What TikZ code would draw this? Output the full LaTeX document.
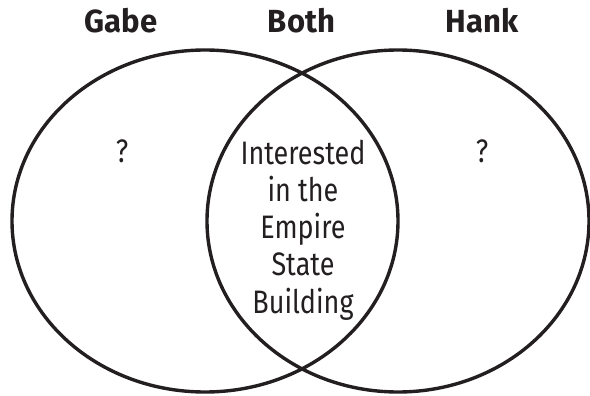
\documentclass[tikz,border=0pt]{standalone}
\usepackage{fontspec}
\setmainfont{Fira Sans}[FakeStretch=0.83, BoldFeatures={FakeStretch=0.97}]
\usetikzlibrary{shapes.geometric}
\definecolor{ink}{HTML}{231F20}
\tikzset{
  setcircle/.style={draw=ink, line width=3.4pt, ellipse, inner sep=0pt},
  heading/.style={font=\fontsize{32}{37}\selectfont\bfseries, text=ink, anchor=base, inner sep=0pt},
  body/.style={font=\fontsize{32.5}{37.2}\selectfont, text=ink, inner sep=0pt, align=center}
}
\begin{document}
\begin{tikzpicture}[x=1pt, y=-1pt]
\useasboundingbox (0,0) rectangle (590,396);
\node[setcircle, minimum width=386pt, minimum height=342pt] (gabe) at (205,221) {};
\node[setcircle, minimum width=382pt, minimum height=342pt] (hank) at (398,221) {};
\node[heading] (tgabe) at (121,33) {Gabe};
\node[heading] (tboth) at (301.5,33) {Both};
\node[heading] (thank) at (482,33) {Hank};
\node[body, anchor=base] (qg) at (122,162) {?};
\node[body, anchor=base] (qh) at (482,162) {?};
\node[body] (both) at (303,230) {Interested\\in the\\Empire\\State\\Building};
\end{tikzpicture}
\end{document}
